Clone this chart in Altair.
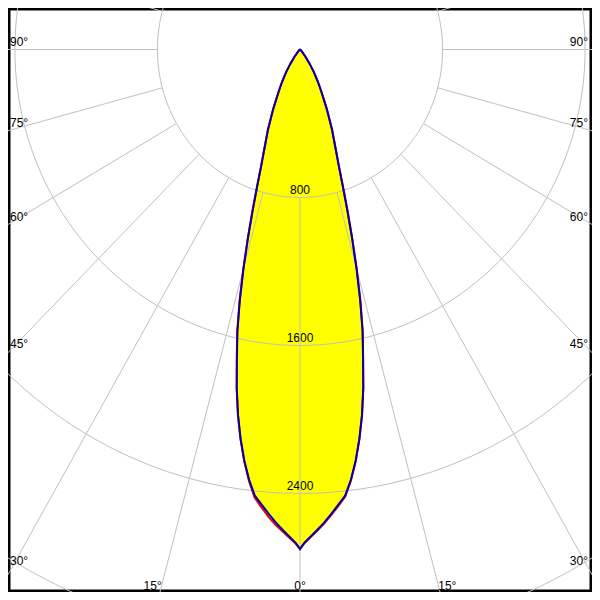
import math
import pandas as pd
import altair as alt

# Polar angle from nadir (deg) and luminous intensity (cd)
ANGLES = [0, 0.5, 1, 2, 3, 4, 5, 6, 7, 8, 9, 10, 11, 12, 13, 14, 15, 16, 17, 18, 19, 20,
          22.5, 25, 27.5, 30, 32.5, 35, 37.5, 40, 45, 50, 60, 70, 80, 90]
BLUE = [2700, 2668, 2646, 2604, 2562, 2516, 2470, 2425, 2343, 2245, 2131, 2005,
        1862, 1703, 1560, 1395, 1225, 1060, 910, 780, 675, 600,
        471, 357, 265, 200, 145, 95, 55, 30, 14, 7, 3, 1, 0, 0]
RED_RIGHT = [2700, 2670, 2648, 2608, 2568, 2522, 2476, 2430, 2347, 2247, 2131, 2005,
             1862, 1703, 1566, 1403, 1232, 1064, 910, 780, 675, 600,
             471, 357, 265, 200, 145, 95, 55, 30, 14, 7, 3, 1, 0, 0]
RED_LEFT = [2700, 2672, 2652, 2612, 2576, 2532, 2484, 2436, 2350, 2248, 2133, 2005,
            1862, 1706, 1568, 1402, 1230, 1063, 910, 780, 675, 600,
            471, 357, 265, 200, 145, 95, 55, 30, 14, 7, 3, 1, 0, 0]

RINGS = [800, 1600, 2400, 3200, 4000]
RING_LABELS = ["800", "1600", "2400"]
SPOKES = list(range(0, 360, 15))
ANGLE_LABELS_SIDE = [90, 75, 60, 45, 30]
ANGLE_LABELS_BOTTOM = [15, 0]

# ---- layout (page pixels) ----
W = 584
H = 584
OFF = 8
CX, CY = 300.0, 49.5          # pole position on the page
SX, SY = 0.1782, 0.185        # px per cd, horizontal / vertical

xdom = [(OFF - CX) / SX, (OFF + W - CX) / SX]
ydom = [(CY - (OFF + H)) / SY, (CY - OFF) / SY]
xs = alt.Scale(domain=xdom, nice=False, zero=False)
ys = alt.Scale(domain=ydom, nice=False, zero=False)


def pol(theta_deg, r):
    t = math.radians(theta_deg)
    return r * math.sin(t), -r * math.cos(t)


def curve(left, right):
    rows = []
    k = 0
    for a, v in zip(reversed(ANGLES), reversed(left)):
        x, y = pol(-a, v)
        rows.append({"x": x, "y": y, "o": k}); k += 1
    for a, v in zip(ANGLES[1:], right[1:]):
        x, y = pol(a, v)
        rows.append({"x": x, "y": y, "o": k}); k += 1
    return pd.DataFrame(rows)


blue_df = curve(BLUE, BLUE)
red_df = curve(RED_LEFT, RED_RIGHT)

ring_rows = []
for r in RINGS:
    for i, d in enumerate(range(0, 361, 2)):
        x, y = pol(d, r)
        ring_rows.append({"x": x, "y": y, "o": i, "ring": r})
ring_df = pd.DataFrame(ring_rows)

spoke_rows = []
for s in SPOKES:
    for i, r in enumerate([800, 8000]):
        x, y = pol(s, r)
        spoke_rows.append({"x": x, "y": y, "o": i, "spoke": s})
spoke_df = pd.DataFrame(spoke_rows)

ring_lab_df = pd.DataFrame([{"x": 0.0, "y": -float(t), "t": t} for t in RING_LABELS])

# angle labels near frame
left_rows, right_rows, bot_rows = [], [], []
for a in ANGLE_LABELS_SIDE:
    if a == 90:
        yl = CY
    else:
        yl = CY + ((CX - 18) / SX) / math.tan(math.radians(a)) * SY
    yl -= 7.5 - (90 - a) * 0.2
    yl = min(yl, 577)
    ydat = (CY - yl) / SY
    left_rows.append({"x": (10 - CX) / SX, "y": ydat, "t": f"{a}°"})
    right_rows.append({"x": (588 - CX) / SX, "y": ydat, "t": f"{a}°"})
for a in ANGLE_LABELS_BOTTOM:
    yb = 585.5
    dx = ((yb - CY) / SY) * math.tan(math.radians(a)) * SX
    shift = 9 if a else 0
    for sgn in ([-1, 1] if a else [1]):
        xp = CX + sgn * (dx + shift)
        bot_rows.append({"x": (xp - CX) / SX, "y": (CY - yb) / SY, "t": f"{a}°"})

FONT = "Liberation Sans"
FS = 12
enc = dict(x=alt.X("x:Q", scale=xs, axis=None), y=alt.Y("y:Q", scale=ys, axis=None))

fill = alt.Chart(blue_df).mark_line(fill="#ffff00", stroke="#ffff00", strokeWidth=1,
                                    clip=True).encode(order="o:Q", **enc)
ringtext = alt.Chart(ring_lab_df).mark_text(font=FONT, fontSize=FS, color="black",
                                            baseline="bottom", dy=-1).encode(text="t:N", **enc)
rings = alt.Chart(ring_df).mark_line(color="#c0c0c0", strokeWidth=1, clip=True).encode(
    order="o:Q", detail="ring:N", **enc)
spokes = alt.Chart(spoke_df).mark_line(color="#c0c0c0", strokeWidth=1, clip=True).encode(
    order="o:Q", detail="spoke:N", **enc)
red = alt.Chart(red_df).mark_line(color="#ee0000", strokeWidth=2, clip=True).encode(
    order="o:Q", **enc)
blue = alt.Chart(blue_df).mark_line(color="#0000b0", strokeWidth=2, clip=True).encode(
    order="o:Q", **enc)
lt = alt.Chart(pd.DataFrame(left_rows)).mark_text(font=FONT, fontSize=FS, color="black",
                                                  align="left", baseline="middle").encode(text="t:N", **enc)
rt = alt.Chart(pd.DataFrame(right_rows)).mark_text(font=FONT, fontSize=FS, color="black",
                                                   align="right", baseline="middle").encode(text="t:N", **enc)
bt = alt.Chart(pd.DataFrame(bot_rows)).mark_text(font=FONT, fontSize=FS, color="black",
                                                 align="center", baseline="middle").encode(text="t:N", **enc)

chart = alt.layer(fill, ringtext, rings, spokes, red, blue, lt, rt, bt).properties(
    width=W, height=H, padding=0, autosize=alt.AutoSizeParams(type="none"),
    background="white"
).configure_view(stroke="black", strokeWidth=5)

chart.save("out.html", embed_options={"renderer": "svg", "actions": False})
